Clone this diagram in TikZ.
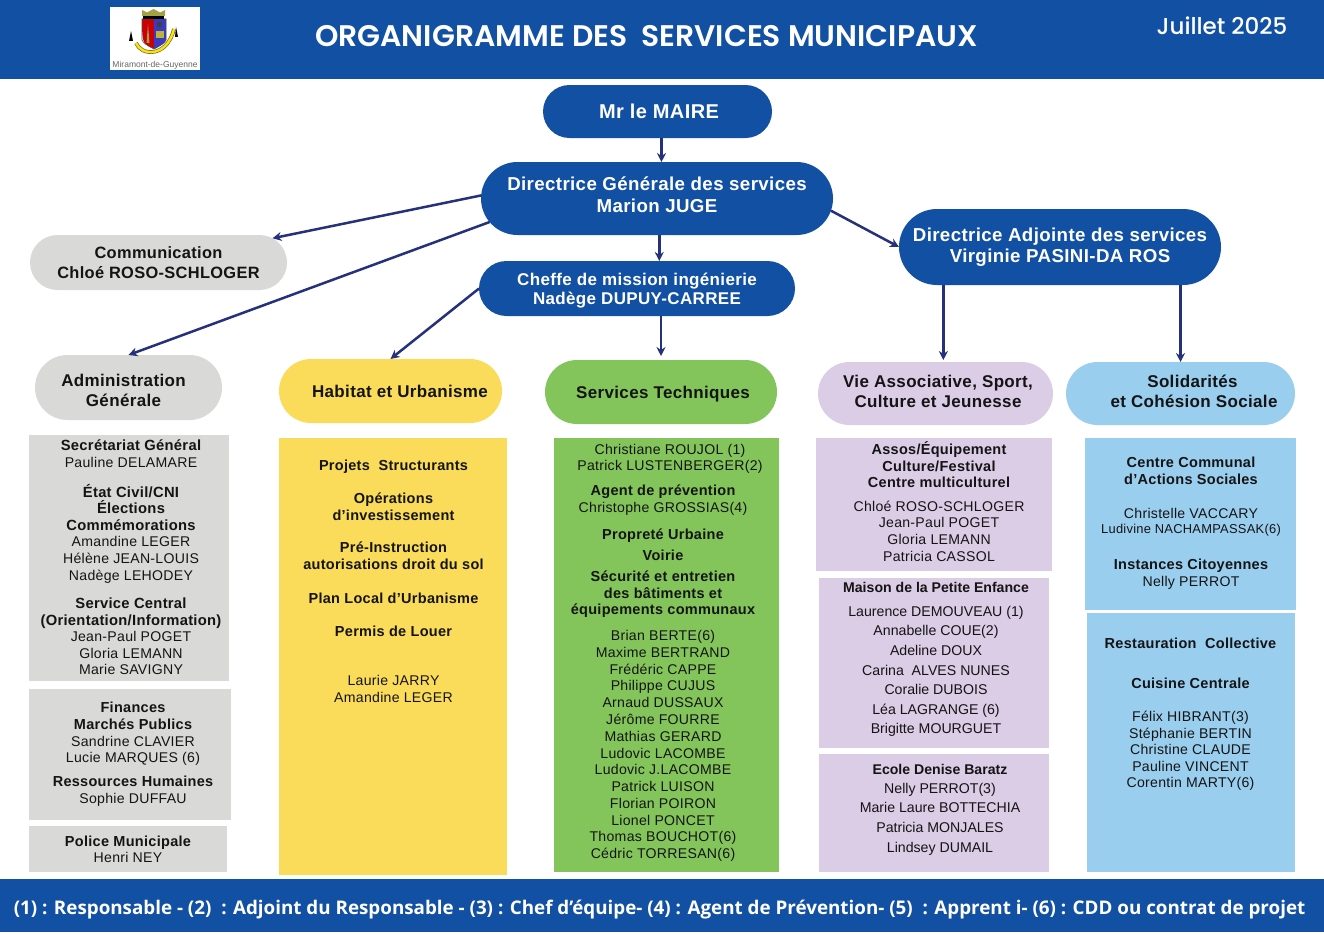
\documentclass[tikz,border=0pt]{standalone}
\usepackage{fontspec}
\usepackage{tikz}
\usetikzlibrary{arrows.meta,shapes.misc}
\setmainfont{Liberation Sans}
\newfontfamily\titlefont[BoldFont={Poppins SemiBold}]{Poppins Medium}
\newfontfamily\footfont{Open Sans}
\newfontfamily\interfont[LetterSpace=2]{Liberation Sans}
\definecolor{bandblue}{HTML}{1250A4}
\definecolor{arrownavy}{HTML}{25317A}
\definecolor{panelgray}{HTML}{D9D9D7}
\definecolor{panelyellow}{HTML}{FADC5A}
\definecolor{panelgreen}{HTML}{84C55B}
\definecolor{panelpurple}{HTML}{DCCDE6}
\definecolor{panelblue}{HTML}{9ACEEE}
\definecolor{inkblack}{HTML}{141414}
\newcommand{\sh}[1]{\hspace*{#1pt}}
\newcommand{\lift}[1]{\rule[-#1pt]{0pt}{0pt}}
\newcommand{\sink}[1]{\rule{0pt}{#1pt}}
\newcommand{\hd}[1]{{\bfseries\fontsize{14.5}{16.6}\selectfont #1}}
\newcommand{\hdl}[1]{{\bfseries\fontsize{14.75}{16.6}\selectfont #1}}
\tikzset{
    pill/.style={rounded rectangle,inner sep=0pt,outer sep=0pt,align=center,text=inkblack,font=\interfont\bfseries\fontsize{17}{20}\selectfont},
    bluepill/.style={pill,fill=bandblue,text=white},
    panel/.style={rectangle,anchor=north west,inner sep=0pt,outer sep=0pt},
    band/.style={rectangle,fill=bandblue,anchor=north west,inner sep=0pt,outer sep=0pt,minimum width=1324pt},
    names/.style={align=center,inner sep=0pt,text=inkblack,font=\interfont\fontsize{14.1}{16.6}\selectfont},
    heads/.style={names,font=\interfont\bfseries\fontsize{14.5}{16.6}\selectfont},
    arial/.style={align=center,inner sep=0pt,text=inkblack,font=\fontsize{14.15}{19.6}\selectfont},
    arialbold/.style={arial,font=\bfseries\fontsize{14.1}{16}\selectfont}
}
\begin{document}
\begin{tikzpicture}[x=1pt,y=-1pt]
    \useasboundingbox (0,0) rectangle (1324,934);

    \node[band,minimum height=79pt] (top) at (0,0) {};
    \node[band,minimum height=53pt] (bottom) at (0,879) {};
    \node[panel,fill=white,minimum width=90pt,minimum height=63pt] (logo) at (110,7) {};

    \draw[yellow!35!black,line width=3.8pt] (136,43) .. controls (141,56) and (167,58) .. (174,29);
    \draw[yellow!85!orange,line width=2.4pt] (136,43) .. controls (141,56) and (167,58) .. (174,29);
    \fill[red!80!black] (142,19) -- (154,19) -- (154,49) -- (148,46) .. controls (143,43) and (142,40) .. cycle;
    \fill[blue!55!gray] (154,19) -- (166,19) -- (166,40) .. controls (165,43) and (160,46) .. (154,49) -- cycle;
    \draw[black!70,line width=0.6pt] (142,19) -- (166,19) -- (166,40) .. controls (165,43) and (160,46) .. (154,49) .. controls (148,46) and (143,43) .. (142,40) -- cycle;
    \fill[yellow!60!black] (148,24) -- (149.5,43) -- (146.5,43) -- cycle;
    \fill[yellow!70!black] (156,31) rectangle (164,38);
    \fill[black!75] (157,22) rectangle (162,27);
    \fill[yellow!60!black] (142,16) -- (142,10) -- (147,12.5) -- (153.5,9) -- (160,12.5) -- (165,10) -- (165,16) -- cycle;
    \fill[black] (143,16) rectangle (164,19);
    \fill[black] (131,31) -- (129,41) -- (133,41) -- cycle;
    \fill[black] (176,27) -- (175,37) -- (178,37) -- cycle;
    \node[inner sep=0pt,text=black!60,font=\fontsize{8.5}{10}\selectfont] (logotext) at (155,65) {Miramont-de-Guyenne};

    \node[text=white,inner sep=0pt,font=\titlefont\bfseries\fontsize{29.8}{32}\selectfont] (title) at (646.5,36) {ORGANIGRAMME DES\ \ SERVICES MUNICIPAUX};
    \node[text=white,inner sep=0pt,font=\titlefont\fontsize{23}{26}\selectfont] (date) at (1222,26) {Juillet 2025};
    \node[text=white,inner sep=0pt,font=\footfont\bfseries\fontsize{18.8}{24}\selectfont] (legend) at (659.5,910) {(1) : Responsable - (2)\ \ : Adjoint du Responsable - (3) : Chef d’équipe- (4) : Agent de Prévention- (5)\ \ : Apprent i- (6) : CDD ou contrat de projet};

    \node[bluepill,minimum width=229pt,minimum height=53pt,font=\interfont\bfseries\fontsize{20}{24}\selectfont] (maire) at (657.5,111.5) {\sink{14}\sh{3}Mr le MAIRE};
    \node[bluepill,minimum width=352pt,minimum height=73pt,font=\interfont\bfseries\fontsize{18.7}{22}\selectfont] (dg) at (657,198.5) {Directrice Générale des services\\Marion JUGE\lift{8}};
    \node[bluepill,minimum width=322pt,minimum height=76pt,font=\interfont\bfseries\fontsize{18.7}{21}\selectfont] (adjointe) at (1060,247) {Directrice Adjointe des services\\Virginie PASINI-DA ROS};
    \node[bluepill,minimum width=316pt,minimum height=55pt,font=\interfont\bfseries\fontsize{17}{19}\selectfont] (cheffe) at (637,288.5) {\sink{17}Cheffe de mission ingénierie\\Nadège DUPUY-CARREE};

    \begin{scope}[every node/.style={pill}]
        \node[fill=panelgray,minimum width=257pt,minimum height=55pt,font=\interfont\bfseries\fontsize{16.4}{20}\selectfont] (comm) at (158.5,262.5) {Communication\\Chloé ROSO-SCHLOGER};
        \node[fill=panelgray,minimum width=187pt,minimum height=65pt] (admin) at (128.5,387.5) {\sink{18}\sh{-10}Administration\\\sh{-10}Générale};
        \node[fill=panelyellow,minimum width=223pt,minimum height=64pt] (habitat) at (390.5,391) {\sink{14}\sh{19}Habitat et Urbanisme};
        \node[fill=panelgreen,minimum width=232pt,minimum height=64pt] (tech) at (661,392) {\sink{16}\sh{4}Services Techniques};
        \node[fill=panelpurple,minimum width=235pt,minimum height=63pt] (vie) at (935.5,393.5) {\sh{5}Vie Associative, Sport,\\\sh{5}Culture et Jeunesse\lift{4.5}};
        \node[fill=panelblue,minimum width=229pt,minimum height=63pt] (solid) at (1180.5,393.5) {\sh{24}Solidarités\\\sh{27}et Cohésion Sociale\lift{4.5}};
    \end{scope}

    \begin{scope}[every edge/.style={draw,color=arrownavy,line width=2.5pt,-{Stealth[length=9pt,width=9pt]}}]
        \path (maire.south -| dg.83.7) edge (dg.83.7);
        \path (dg.south -| cheffe.51.3) edge (cheffe.51.3);
        \path (dg.179.5) edge (comm.12.1);
        \path (dg.188) edge (admin.north);
        \path (dg.-4.8) edge (adjointe.west);
        \path (cheffe.west) edge (habitat.north);
        \path (cheffe.south -| tech.north) edge[shorten >=4pt] (tech.north);
        \path (adjointe.south -| vie.76.6) edge[shorten >=2pt] (vie.76.6);
        \path (adjointe.south -| solid.north) edge (solid.north);
    \end{scope}

    \node[panel,fill=panelgray,minimum width=200pt,minimum height=246pt] (secr) at (29,435) {};
    \node[panel,fill=panelgray,minimum width=202pt,minimum height=131pt] (fin) at (29,689) {};
    \node[panel,fill=panelgray,minimum width=198pt,minimum height=46pt] (police) at (29,826) {};
    \node[panel,fill=panelyellow,minimum width=228pt,minimum height=437pt] (proj) at (279,438) {};
    \node[panel,fill=panelgreen,minimum width=225pt,minimum height=434pt] (serv) at (554,438) {};
    \node[panel,fill=panelpurple,minimum width=236pt,minimum height=133pt] (assos) at (816,438) {};
    \node[panel,fill=panelpurple,minimum width=230pt,minimum height=170pt] (maison) at (819,578) {};
    \node[panel,fill=panelpurple,minimum width=230pt,minimum height=118pt] (ecole) at (819,754) {};
    \node[panel,fill=panelblue,minimum width=211pt,minimum height=172pt] (ccas) at (1085,438) {};
    \node[panel,fill=panelblue,minimum width=208pt,minimum height=259pt] (resto) at (1087,613) {};

    \begin{scope}[every node/.style={names}]
        \node (secrtxt) at (131,453.5) {\hdl{Secrétariat Général}\\Pauline DELAMARE};
        \node (etattxt) at (131,533.5) {\hdl{État Civil/CNI}\\\hdl{Élections}\\\hdl{Commémorations}\\Amandine LEGER\\Hélène JEAN-LOUIS\\Nadège LEHODEY};
        \node (centraltxt) at (131,636.5) {\hdl{Service Central}\\\hdl{(Orientation/Information)}\\Jean-Paul POGET\\Gloria LEMANN\\Marie SAVIGNY};
        \node (fintxt) at (133,734) {\hd{Finances}\\\hd{Marchés Publics}\\Sandrine CLAVIER\\Lucie MARQUES (6)};
        \node (rhtxt) at (133,791) {\hd{Ressources Humaines}\\Sophie DUFFAU};
        \node (policetxt) at (128,849.5) {\hd{Police Municipale}\\Henri NEY};

        \node[heads] (projtxt) at (393.5,467) {Projets\ \ Structurants};
        \node[heads] (opetxt) at (393.5,507) {Opérations\\d’investissement};
        \node[heads] (pretxt) at (393.5,556) {Pré-Instruction\\autorisations droit du sol};
        \node[heads] (plutxt) at (393.5,598) {Plan Local d’Urbanisme};
        \node[heads] (louertxt) at (393.5,631) {Permis de Louer};
        \node (jarrytxt) at (393.5,689) {Laurie JARRY\\Amandine LEGER};

        \node (roujoltxt) at (670,459) {Christiane ROUJOL (1)\\Patrick LUSTENBERGER(2)};
        \node (agenttxt) at (663,500) {\hd{Agent de prévention}\\Christophe GROSSIAS(4)};
        \node[heads] (propretxt) at (663,536) {Propreté Urbaine};
        \node[heads] (voirietxt) at (663,555) {Voirie};
        \node[heads] (securtxt) at (663,594.5) {Sécurité et entretien\\des bâtiments et\\équipements communaux};
        \node[font=\interfont\fontsize{14.1}{16.77}\selectfont] (equipetxt) at (663,746) {Brian BERTE(6)\\Maxime BERTRAND\\Frédéric CAPPE\\Philippe CUJUS\\Arnaud DUSSAUX\\Jérôme FOURRE\\Mathias GERARD\\Ludovic LACOMBE\\Ludovic J.LACOMBE\\Patrick LUISON\\Florian POIRON\\Lionel PONCET\\Thomas BOUCHOT(6)\\Cédric TORRESAN(6)};

        \node[heads] (assostxt) at (939,465) {Assos/Équipement\\Culture/Festival\\Centre multiculturel};
        \node (chloetxt) at (939,531) {Chloé ROSO-SCHLOGER\\Jean-Paul POGET\\Gloria LEMANN\\Patricia CASSOL};

        \node[heads] (ccastxt) at (1191,471) {Centre Communal\\d’Actions Sociales};
        \node (vaccarytxt) at (1191,513) {Christelle VACCARY};
        \node[font=\interfont\fontsize{12.9}{15}\selectfont] (nachtxt) at (1191,530) {Ludivine NACHAMPASSAK(6)};
        \node (instxt) at (1191,574.5) {\hd{Instances Citoyennes}\\Nelly PERROT};

        \node[heads] (restotxt) at (1190.5,643) {Restauration\ \ Collective};
        \node[heads] (cuisinetxt) at (1190.5,683) {Cuisine Centrale};
        \node (hibranttxt) at (1190.5,751) {Félix HIBRANT(3)\\Stéphanie BERTIN\\Christine CLAUDE\\Pauline VINCENT\\Corentin MARTY(6)};
    \end{scope}

    \begin{scope}[every node/.style={arial}]
        \node[arialbold] (maisontxt) at (936,587) {Maison de la Petite Enfance};
        \node (maisonnoms) at (936,671.5) {Laurence DEMOUVEAU (1)\\Annabelle COUE(2)\\Adeline DOUX\\Carina\ \ ALVES NUNES\\Coralie DUBOIS\\Léa LAGRANGE (6)\\Brigitte MOURGUET};
        \node[arialbold] (ecoletxt) at (940,769) {Ecole Denise Baratz};
        \node (ecolenoms) at (940,819) {Nelly PERROT(3)\\Marie Laure BOTTECHIA\\Patricia MONJALES\\Lindsey DUMAIL};
    \end{scope}
\end{tikzpicture}
\end{document}
